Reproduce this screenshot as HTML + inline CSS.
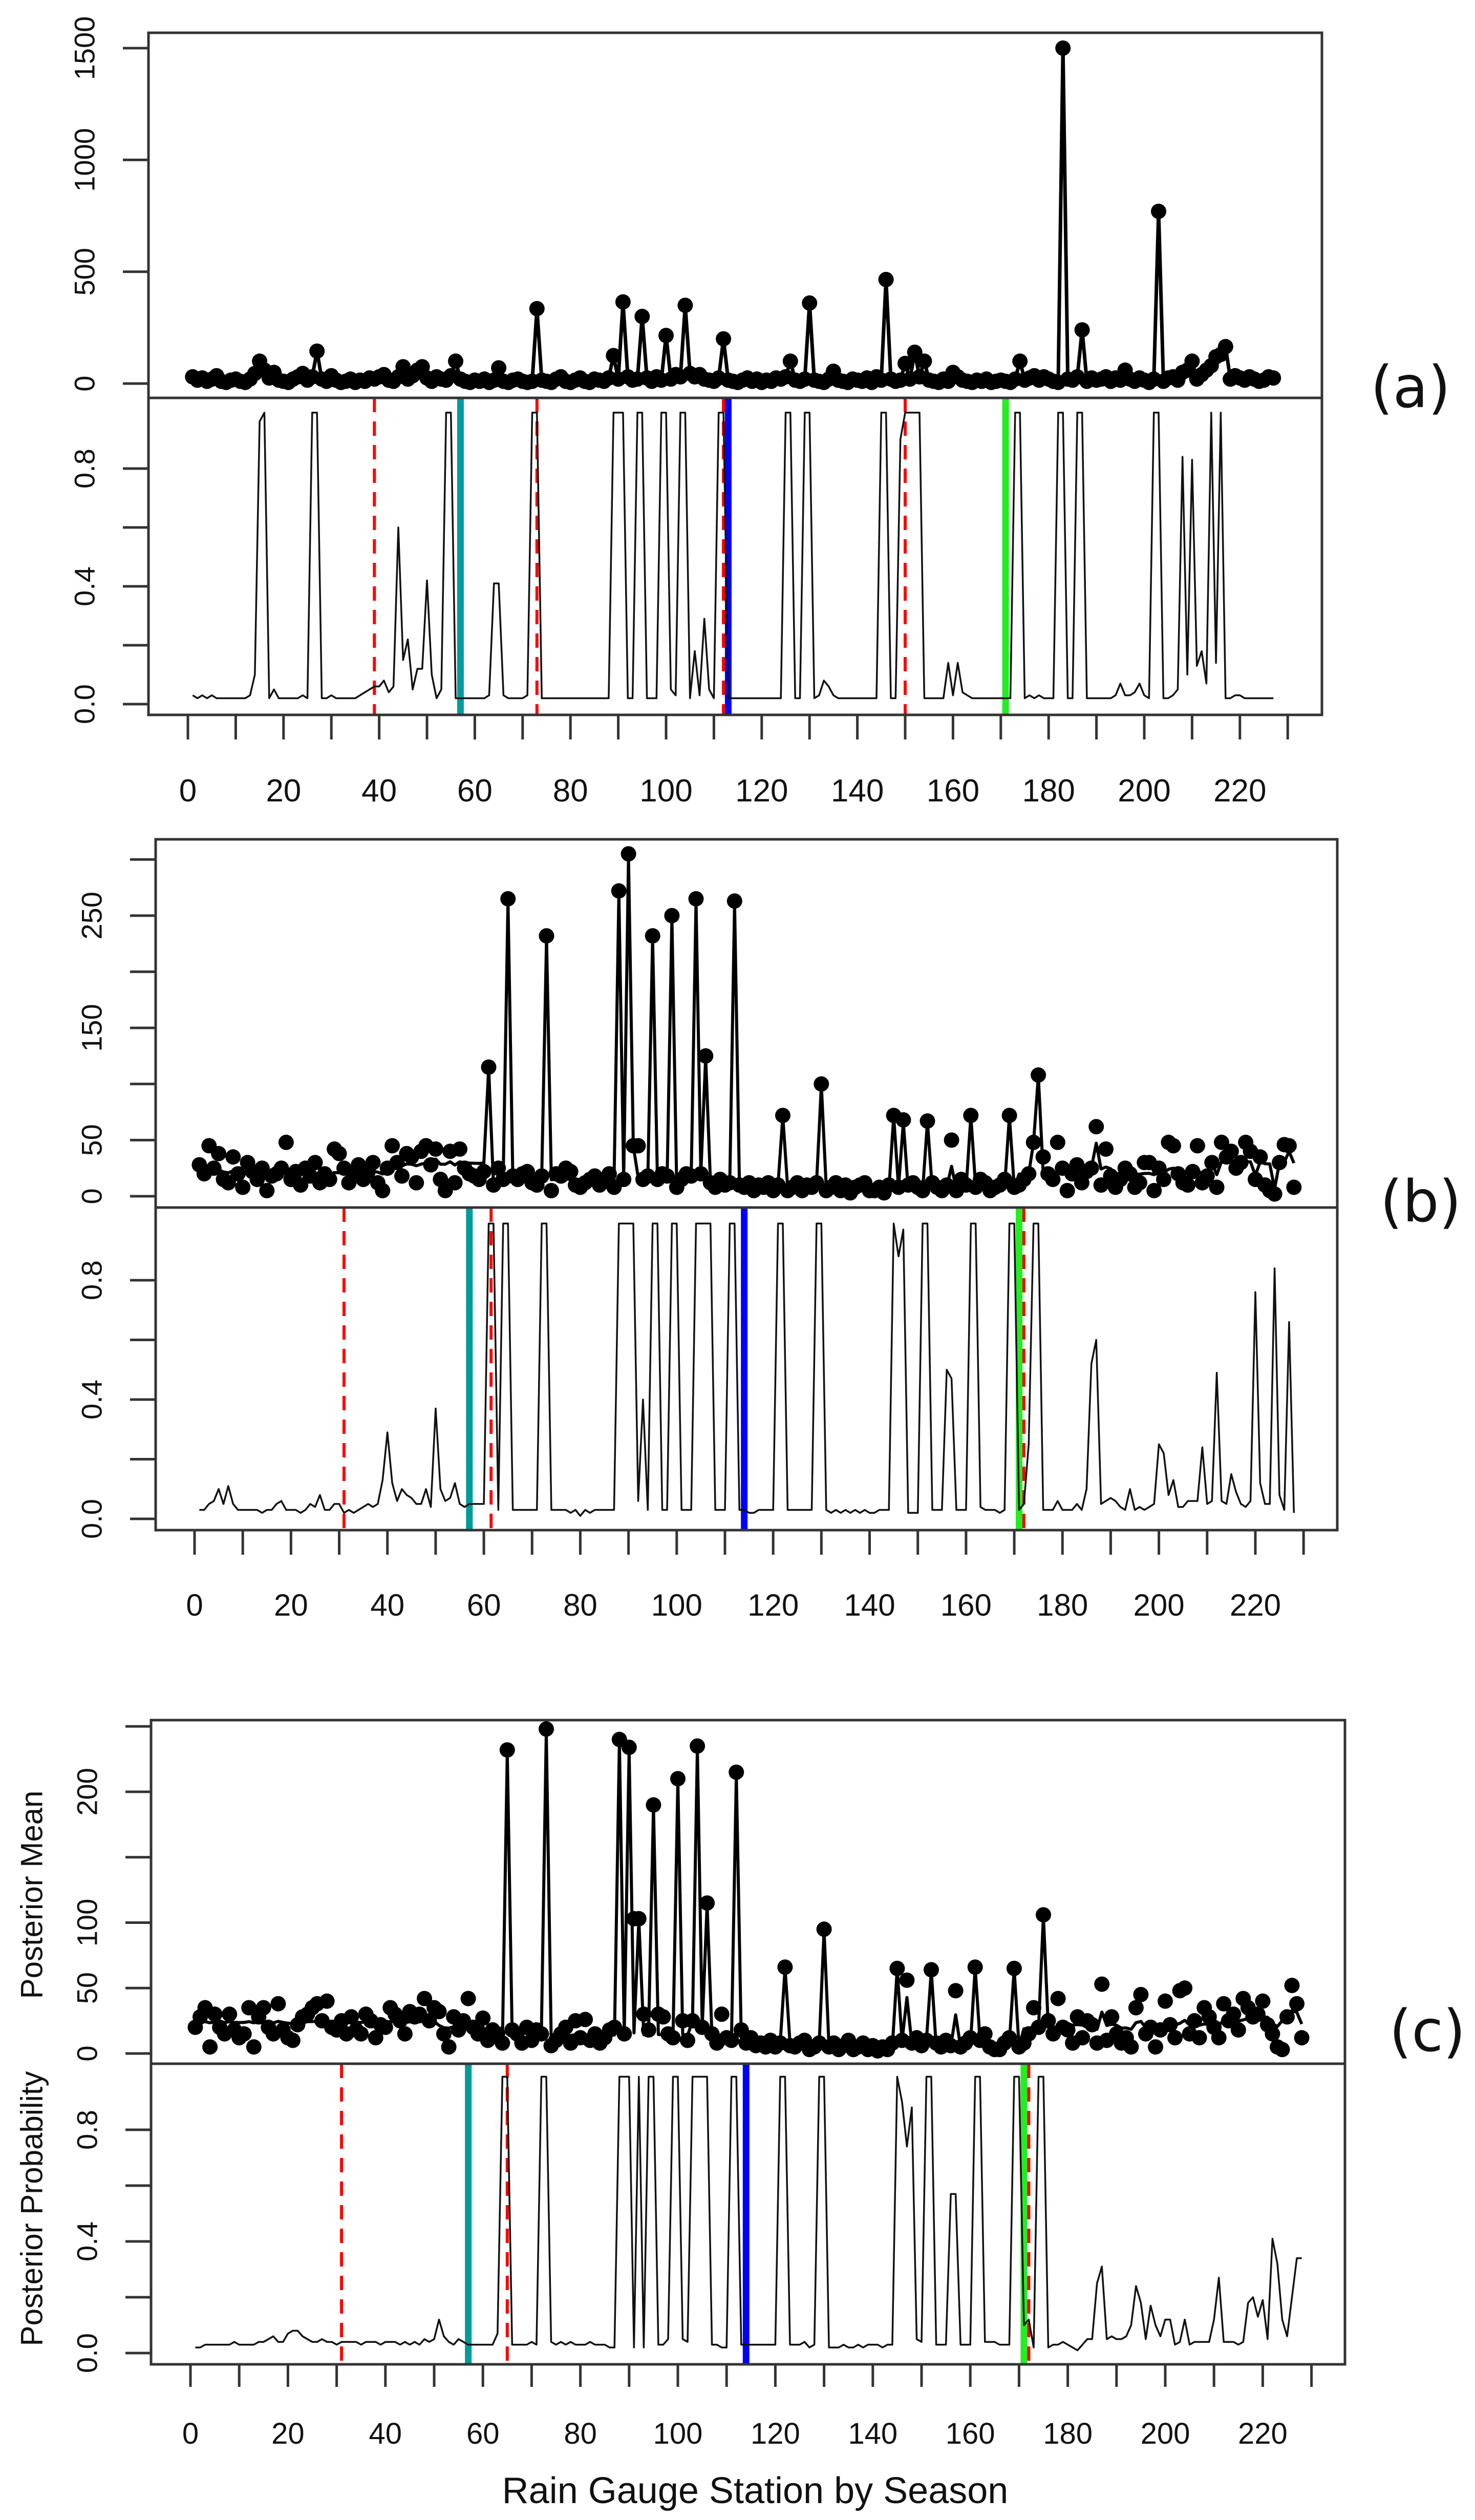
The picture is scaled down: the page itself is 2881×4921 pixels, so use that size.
<!DOCTYPE html>
<html><head><meta charset="utf-8"><title>Posterior plots by rain gauge station</title>
<style>html,body{margin:0;padding:0;background:#fff}svg{display:block}text{font-family:"Liberation Sans",Arial,sans-serif;fill:#111}</style>
</head><body>
<svg id="chart" xmlns="http://www.w3.org/2000/svg" width="2881" height="4921" viewBox="0 0 2881 4921">
<rect x="0" y="0" width="2881" height="4921" fill="#fff"/>
</svg>
<script>
// ---------- Data ----------
const xTickValues = [0,10,20,30,40,50,60,70,80,90,100,110,120,130,140,150,160,170,180,190,200,210,220,230];
const xTickLabels = ["0","20","40","60","80","100","120","140","160","180","200","220"];

// Panel (a)
const aObs = [30,15,25,10,20,35,10,5,15,20, 10,5,20,45,100,60,25,50,15,10, 5,20,30,45,15,30,145,20,10,35,
 15,5,10,20,5,15,10,25,20,30, 40,15,10,30,75,20,35,60,75,25, 10,30,20,15,35,100,20,10,5,15,
 10,20,5,15,70,10,5,15,20,10, 5,10,335,15,10,5,20,30,10,5, 15,25,10,5,20,15,10,25,125,20,
 365,30,15,20,300,25,10,30,15,215, 20,40,30,350,45,30,40,20,15,10, 25,200,15,10,5,15,25,10,20,5,
 15,10,25,20,30,100,15,10,20,360, 15,10,5,20,55,15,10,5,20,15, 10,25,5,30,15,465,20,10,15,90,
 20,140,30,100,15,10,5,20,10,50, 30,15,10,5,15,10,20,5,10,15, 10,5,20,100,15,25,35,15,30,20,
 10,5,1500,20,15,30,240,10,25,15, 20,30,10,25,15,60,20,10,25,15, 5,20,770,10,25,30,15,50,60,100,
 20,40,60,80,120,130,165,20,35,25, 15,30,20,10,15,30,25];
const aProb = [.03,.02,.03,.02,.03,.02,.02,.02,.02,.02, .02,.02,.03,.10,.96,.99,.02,.05,.02,.02,
 .02,.02,.02,.03,.02,.99,.99,.02,.02,.03, .02,.02,.02,.02,.02,.03,.04,.05,.06,.06,
 .08,.04,.06,.60,.15,.22,.05,.12,.12,.42, .10,.02,.05,.99,.99,.02,.02,.02,.02,.02,
 .02,.02,.03,.41,.41,.03,.02,.02,.02,.02, .03,.99,.99,.02,.02,.02,.02,.02,.02,.02,
 .02,.02,.02,.02,.02,.02,.02,.02,.99,.99, .99,.02,.02,.99,.99,.02,.02,.02,.99,.99,
 .05,.03,.99,.99,.02,.18,.03,.29,.05,.02, .99,.99,.02,.02,.02,.02,.02,.02,.02,.02,
 .02,.02,.02,.02,.99,.99,.02,.02,.99,.99, .02,.03,.08,.06,.03,.02,.02,.02,.02,.02,
 .02,.02,.02,.02,.99,.99,.02,.02,.90,.99, .99,.99,.99,.02,.02,.02,.02,.02,.14,.03,
 .14,.04,.03,.02,.02,.02,.02,.02,.02,.02, .02,.02,.99,.99,.02,.03,.02,.03,.02,.02,
 .02,.99,.99,.02,.02,.99,.99,.02,.02,.02, .02,.02,.02,.03,.07,.03,.03,.04,.07,.03,
 .02,.99,.99,.02,.02,.03,.05,.84,.10,.83, .13,.18,.07,.99,.14,.99,.02,.02,.03,.03,
 .02,.02,.02,.02,.02,.02,.02];
const aTopTicks = [0,500,1000,1500];
const aTopLabels = ["0","500","1000","1500"];
const aRedLines = [39,73,112,150];
const aTeal = 57, aBlue = 113, aGreen = 171;

// Panel (b)
const bObs = [28,20,45,25,38,15,12,35,20,8, 30,22,15,25,5,18,20,25,48,15, 22,10,25,18,30,12,20,15,42,38,
 25,12,20,28,15,22,30,12,5,25, 45,30,18,38,35,12,40,45,28,42, 15,5,40,12,42,25,20,18,15,22,
 115,10,25,15,265,18,15,20,22,12, 10,18,232,5,20,18,25,22,10,8, 12,15,18,10,15,20,8,272,15,305,
 45,45,15,18,232,15,20,18,250,8, 15,20,18,265,20,125,12,8,15,10, 12,263,10,8,12,5,10,8,12,5,
 10,72,5,8,12,5,10,8,12,100, 5,8,12,5,10,3,8,10,12,5, 5,8,3,10,72,8,68,10,12,8,
 5,67,12,8,5,10,50,5,15,10, 72,8,15,12,5,8,10,15,72,8, 10,15,20,48,108,35,20,15,48,25,
 5,20,28,12,22,25,62,10,42,18, 8,15,25,20,8,12,30,30,5,25, 15,48,45,20,12,10,22,45,12,18,
 30,8,48,35,40,25,30,48,40,15, 35,10,5,2,30,46,45,8];
const bLevel = [22,22,20,22,28,30,18,15,15,15,18,12,8,8,6,6,8,20,25,20,22,30,30];
const bProb = [.03,.03,.05,.06,.10,.05,.11,.05,.03,.03, .03,.03,.03,.02,.03,.03,.05,.06,.03,.03,
 .03,.02,.03,.05,.04,.08,.03,.03,.05,.05, .02,.03,.02,.03,.04,.05,.04,.05,.13,.29,
 .12,.06,.10,.08,.07,.05,.05,.10,.04,.37, .10,.06,.07,.12,.05,.04,.05,.05,.05,.05,
 .99,.99,.03,.99,.99,.03,.03,.03,.03,.03, .03,.99,.99,.03,.03,.03,.03,.02,.03,.01,
 .03,.02,.03,.03,.03,.03,.03,.99,.99,.99, .99,.06,.40,.03,.99,.99,.03,.03,.99,.99,
 .03,.03,.03,.99,.99,.99,.99,.03,.03,.03, .99,.99,.03,.03,.02,.02,.03,.03,.03,.03,
 .99,.99,.03,.03,.03,.03,.03,.03,.99,.99, .03,.02,.03,.02,.03,.02,.03,.02,.03,.02,
 .02,.03,.03,.03,.99,.88,.97,.02,.02,.02, .99,.99,.03,.03,.03,.50,.47,.03,.03,.03,
 .99,.99,.04,.03,.03,.03,.02,.03,.99,.99, .03,.05,.25,.99,.99,.03,.03,.03,.06,.03,
 .03,.03,.05,.03,.10,.52,.60,.05,.06,.07, .06,.04,.03,.10,.03,.04,.03,.04,.05,.25,
 .22,.08,.13,.04,.04,.06,.06,.06,.24,.05, .06,.49,.06,.05,.15,.09,.05,.04,.06,.76,
 .12,.05,.05,.84,.08,.03,.66,.02];
const bTopTicks = [0,50,100,150,200,250,300];
const bTopLabels = ["0","50","","150","","250",""];
const bRedLines = [31,61.5,172];
const bTeal = 57, bBlue = 114, bGreen = 171;

// Panel (c)
const cObs = [20,28,35,5,30,20,15,30,18,12, 15,35,5,28,35,20,15,38,18,12, 10,22,28,30,35,38,25,40,20,18,
 25,15,28,18,15,30,25,12,22,20, 35,30,25,15,32,28,30,42,25,35, 32,15,5,28,18,25,42,20,15,27,
 10,18,15,8,232,18,15,8,20,10, 18,15,248,6,10,15,20,8,25,12, 26,10,15,8,12,18,20,240,15,234,
 103,103,30,18,190,30,28,15,12,210, 25,10,25,235,20,115,15,8,30,12, 10,215,18,8,12,6,8,5,10,5,
 8,66,6,5,8,10,3,5,8,95, 5,8,3,6,10,3,5,8,3,6, 2,5,3,8,65,10,56,8,12,6,
 10,64,8,5,10,6,48,5,8,12, 66,10,15,5,3,3,8,12,65,5, 8,15,35,20,106,25,15,42,20,18,
 8,28,12,25,22,8,53,10,28,15, 8,12,5,35,45,15,20,5,18,40, 22,12,48,50,15,25,12,35,28,20,
 12,38,25,30,18,42,35,28,30,40, 22,15,5,3,28,52,38,12];
const cLevel = [24,24,24,24,24,20,16,14,14,14,14,12,8,6,5,5,8,20,22,20,22,25,28];
const cProb = [.02,.02,.03,.03,.03,.03,.03,.03,.04,.03, .03,.03,.03,.04,.04,.05,.06,.04,.04,.07,
 .08,.08,.06,.05,.04,.04,.05,.04,.04,.03, .04,.04,.04,.04,.03,.04,.04,.04,.03,.04,
 .04,.04,.03,.04,.03,.04,.03,.05,.04,.05, .12,.06,.04,.03,.05,.04,.03,.03,.03,.03,
 .03,.03,.07,.99,.99,.03,.03,.03,.03,.04, .03,.99,.99,.04,.03,.04,.03,.04,.03,.03,
 .03,.04,.03,.03,.03,.02,.02,.99,.99,.99, .02,.99,.02,.99,.99,.03,.03,.05,.99,.99,
 .05,.04,.99,.99,.99,.99,.03,.03,.02,.02, .99,.99,.03,.03,.03,.03,.03,.03,.03,.03,
 .99,.99,.03,.03,.03,.04,.02,.03,.99,.99, .02,.02,.02,.03,.02,.02,.03,.02,.03,.03,
 .03,.02,.03,.03,.99,.90,.74,.88,.05,.04, .99,.99,.03,.03,.03,.57,.57,.03,.03,.03,
 .99,.99,.04,.04,.04,.03,.03,.03,.99,.99, .10,.12,.02,.99,.99,.02,.03,.03,.04,.03,
 .02,.01,.03,.05,.05,.25,.31,.05,.06,.05, .05,.06,.10,.24,.18,.05,.17,.10,.06,.12,
 .12,.03,.04,.12,.03,.04,.04,.04,.04,.12, .27,.04,.04,.04,.03,.04,.18,.20,.13,.19,
 .05,.41,.32,.12,.06,.20,.34,.34];
const cTopTicks = [0,50,100,150,200,250];
const cTopLabels = ["0","50","100","","200",""];
const cRedLines = [31,65,172];
const cTeal = 57, cBlue = 114, cGreen = 171;

const probTicks = [0,0.2,0.4,0.6,0.8];
const probLabels = ["0.0","","0.4","","0.8"];

// ---------- Rendering ----------
const NS = "http://www.w3.org/2000/svg";
const svg = document.getElementById("chart");
function mk(tag, attrs, parent) {
  const e = document.createElementNS(NS, tag);
  for (const k in attrs) e.setAttribute(k, attrs[k]);
  (parent || svg).appendChild(e);
  return e;
}

function drawPanel(cfg) {
  const g = mk("g", {});
  
  
  const xs = v => cfg.x0 + v * cfg.xk;
  const yTop = v => cfg.topZero - v * cfg.topK;
  const yBot = p => cfg.botZero - p * cfg.botK;
  const n = cfg.obs.length;

  const vl = (v, color, w, dash, name) => {
    const l = mk("line", {x1: xs(v), x2: xs(v), y1: cfg.div, y2: cfg.bottom, stroke: color, "stroke-width": w}, g);
    if (dash) l.setAttribute("stroke-dasharray", dash);
    
    
  };
  vl(cfg.teal, "#009b9b", 13, null, "teal-marker-line");
  vl(cfg.blue, "#0000ff", 13, null, "blue-marker-line");
  vl(cfg.green, "#22ee22", 13, null, "green-marker-line");
  cfg.red.forEach(v => vl(v, "#ff0000", 6, "28,18", "red-dashed-line"));

  let d = "";
  cfg.prob.forEach((p, i) => { d += (i ? "L" : "M") + xs(i + 1).toFixed(1) + "," + yBot(p).toFixed(1); });
  const pl = mk("path", {d: d, fill: "none", stroke: "#111", "stroke-width": 3.5, "stroke-linejoin": "round"}, g);
  
  

  let d2 = "";
  for (let i = 0; i < n; i++) {
    let m;
    if (cfg.level) { const p = cfg.prob[i] || 0; m = p * cfg.obs[i] + (1 - p) * cfg.level[Math.floor(i / 10)]; }
    else m = cfg.obs[i];
    d2 += (i ? "L" : "M") + xs(i + 1).toFixed(1) + "," + yTop(m).toFixed(1);
  }
  const ml = mk("path", {d: d2, fill: "none", stroke: "#000", "stroke-width": cfg.level ? 6 : 7, "stroke-linejoin": "round"}, g);
  
  
  for (let i = 0; i < n; i++) {
    const c = mk("circle", {cx: xs(i + 1).toFixed(1), cy: yTop(cfg.obs[i]).toFixed(1), r: 15, fill: "#000"}, g);
    
    
  }

  const fr = mk("rect", {x: cfg.left, y: cfg.top, width: cfg.right - cfg.left, height: cfg.bottom - cfg.top, fill: "none", stroke: "#333", "stroke-width": 5}, g);
  
  
  const dv = mk("line", {x1: cfg.left, x2: cfg.right, y1: cfg.div, y2: cfg.div, stroke: "#333", "stroke-width": 5}, g);
  
  

  xTickValues.forEach(v => {
    const t = mk("line", {x1: xs(v), x2: xs(v), y1: cfg.bottom + 2, y2: cfg.bottom + cfg.tickLen, stroke: "#333", "stroke-width": 5}, g);
    
    
  });
  xTickLabels.forEach((s, i) => {
    const t = mk("text", {x: xs(i * 20), y: cfg.xLabY, "text-anchor": "middle", "font-size": cfg.xFont}, g);
    t.textContent = s;
    
    
  });

  const yAxis = (ticks, labels, yf, kind) => {
    ticks.forEach((v, i) => {
      const y = yf(v);
      const t = mk("line", {x1: cfg.left - 50, x2: cfg.left, y1: y, y2: y, stroke: "#333", "stroke-width": 5}, g);
      
      
      if (labels[i]) {
        const lx = cfg.left - 125;
        const tx = mk("text", {x: lx, y: y, "text-anchor": "middle", "dominant-baseline": "central", "font-size": 56, transform: "rotate(-90 " + lx + " " + y + ")"}, g);
        tx.textContent = labels[i];
        
        
      }
    });
  };
  yAxis(cfg.topTicks, cfg.topLabels, yTop, "mean-axis");
  yAxis(probTicks, probLabels, yBot, "probability-axis");

  const lab = mk("text", {x: cfg.labX, y: cfg.labY, "text-anchor": "middle", "font-size": 112, style: 'font-family:"DejaVu Sans",sans-serif'}, g);
  lab.textContent = cfg.label;
  
  
}

drawPanel({name: "panel-a", obs: aObs, prob: aProb, level: null,
  left: 290, right: 2582, top: 64, div: 777, bottom: 1396,
  x0: 367, xk: 9.34, topZero: 749, topK: 0.4367, botZero: 1375, botK: 575,
  topTicks: aTopTicks, topLabels: aTopLabels, red: aRedLines, teal: aTeal, blue: aBlue, green: aGreen,
  tickLen: 48, xLabY: 1565, xFont: 62, label: "(a)", labX: 2755, labY: 795});
drawPanel({name: "panel-b", obs: bObs, prob: bProb, level: bLevel,
  left: 304, right: 2612, top: 1639, div: 2358, bottom: 2988,
  x0: 380, xk: 9.418, topZero: 2336, topK: 2.192, botZero: 2966, botK: 582.5,
  topTicks: bTopTicks, topLabels: bTopLabels, red: bRedLines, teal: bTeal, blue: bBlue, green: bGreen,
  tickLen: 48, xLabY: 3155, xFont: 60, label: "(b)", labX: 2775, labY: 2385});
drawPanel({name: "panel-c", obs: cObs, prob: cProb, level: cLevel,
  left: 295, right: 2627, top: 3359, div: 4030, bottom: 4617,
  x0: 372, xk: 9.52, topZero: 4010, topK: 2.555, botZero: 4595, botK: 545,
  topTicks: cTopTicks, topLabels: cTopLabels, red: cRedLines, teal: cTeal, blue: cBlue, green: cGreen,
  tickLen: 44, xLabY: 4772, xFont: 58, label: "(c)", labX: 2788, labY: 4005});

const t1 = mk("text", {x: 62, y: 3700, "text-anchor": "middle", "dominant-baseline": "central", "font-size": 60, transform: "rotate(-90 62 3700)"});
t1.textContent = "Posterior Mean";


const t2 = mk("text", {x: 62, y: 4313, "text-anchor": "middle", "dominant-baseline": "central", "font-size": 60, transform: "rotate(-90 62 4313)"});
t2.textContent = "Posterior Probability";


const t3 = mk("text", {x: 1475, y: 4888, "text-anchor": "middle", "font-size": 72});
t3.textContent = "Rain Gauge Station by Season";


</script>
</body></html>
